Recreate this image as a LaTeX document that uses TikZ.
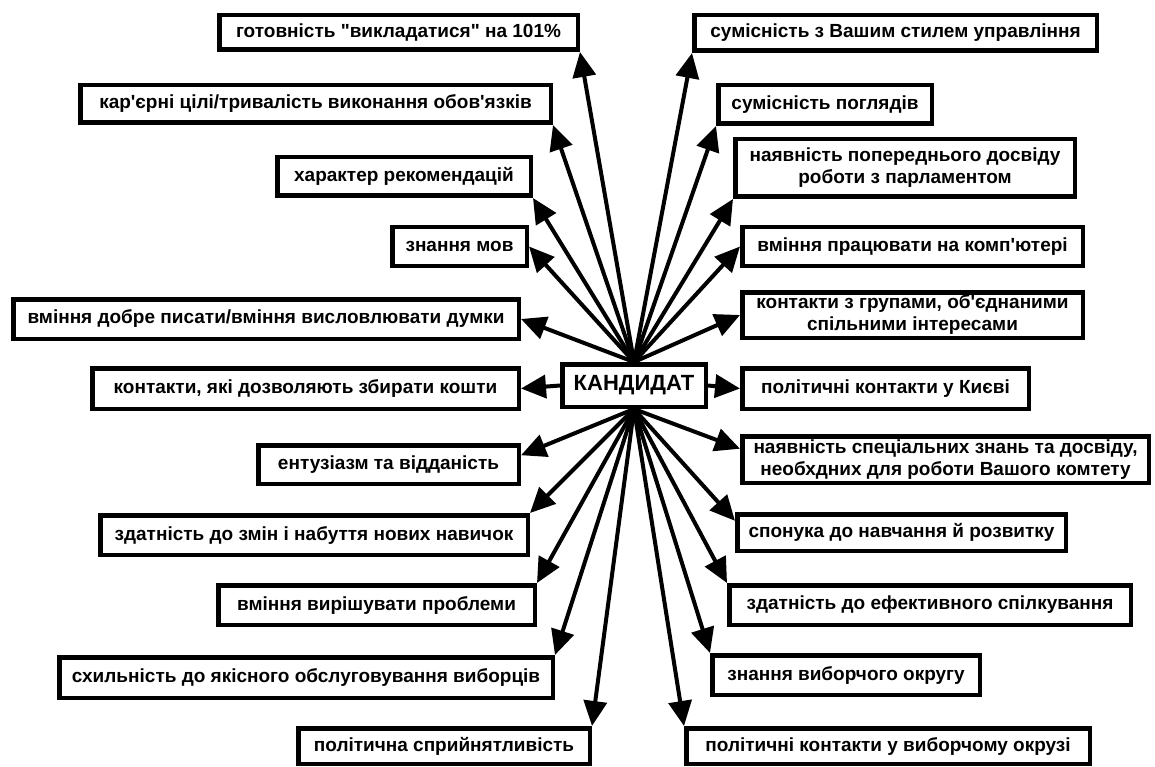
\documentclass[tikz,border=0pt]{standalone}
\usepackage{fontspec}
\newfontfamily\uafont{Liberation Sans}
\usetikzlibrary{arrows.meta}
\tikzset{
  box/.style={draw, line width=4.5pt, fill=white, inner sep=0pt, align=center,
    font=\uafont\bfseries\fontsize{19}{22}\selectfont},
  candbox/.style={box, font=\uafont\bfseries\fontsize{22}{24}\selectfont},
  arr/.style={line width=4pt, -{Triangle[length=25pt,width=23pt]}}
}
\newcommand\bx[6]{%
  \node[box, minimum width={(#4-#2-4.5)*1pt}, minimum height={(#5-#3-4.5)*1pt}]
    (#1) at ({(#2+#4)/2},{(#3+#5)/2}) {#6};}
\begin{document}
\begin{tikzpicture}[x=1pt,y=-1pt]
\useasboundingbox[fill=white] (0,0) rectangle (1155,767);
% centre
\node[candbox, minimum width=143.5pt, minimum height=42.5pt] (C) at (634,385.5) {\raisebox{-1pt}{КАНДИДАТ}};
% left column
\bx{L1}{217}{13}{580}{52}{готовність "викладатися" на 101\%}
\bx{L2}{78}{83}{553}{125}{кар'єрні цілі/тривалість виконання обов'язків}
\bx{L3}{275}{155}{533}{198}{характер рекомендацій}
\bx{L4}{390}{225}{529}{268}{знання мов}
\bx{L5}{11}{297}{521}{341}{вміння добре писати/вміння висловлювати думки}
\bx{L6}{90}{366}{521}{411}{контакти, які дозволяють збирати кошти}
\bx{L7}{256}{443}{521}{486}{ентузіазм та відданість}
\bx{L8}{98}{513}{530}{557}{здатність до змін і набуття нових навичок}
\bx{L9}{216}{583}{537}{627}{вміння вирішувати проблеми}
\bx{L10}{57}{655}{555}{700}{схильність до якісного обслуговування виборців}
\bx{L11}{296}{726}{592}{766}{політична сприйнятливість}
% right column
\bx{R1}{692}{13}{1099}{53}{сумісність з Вашим стилем управління}
\bx{R2}{716}{83}{934}{126}{сумісність поглядів}
\bx{R3}{733}{137}{1077}{199}{наявність попереднього досвіду\\роботи з парламентом}
\bx{R4}{740}{225}{1085}{268}{вміння працювати на комп'ютері}
\bx{R5}{740}{290}{1085}{340}{контакти з групами, об'єднаними\\спільними інтересами}
\bx{R6}{740}{366}{1031}{411}{політичні контакти у Києві}
\bx{R7}{740}{434}{1151}{485}{наявність спеціальних знань та досвіду,\\необхдних для роботи Вашого комтету}
\bx{R8}{735}{512}{1068}{553}{спонука до навчання й розвитку}
\bx{R9}{727}{583}{1133}{627}{здатність до ефективного спілкування}
\bx{R10}{710}{653}{982}{697}{знання виборчого округу}
\bx{R11}{684}{726}{1092}{766}{політичні контакти у виборчому окрузі}
% arrows
\draw[arr] (C.north) -- (L1.south east);
\draw[arr] (C.north) -- (L2.south east);
\draw[arr] (C.north) -- (L3.south east);
\draw[arr] (C.north) -- (L4.east);
\draw[arr] (C.north) -- (L5.east);
\draw[arr] (C.west) -- (L6.east);
\draw[arr] (C.south) -- (L7.4);
\draw[arr] (C.south) -- (L8.north east);
\draw[arr] (C.south) -- (L9.north east);
\draw[arr] (C.south) -- (L10.north east);
\draw[arr] (C.south) -- (L11.north east);
\draw[arr] (C.north) -- (R1.south west);
\draw[arr] (C.north) -- (R2.south west);
\draw[arr] (C.north) -- (R3.south west);
\draw[arr] (C.north) -- (R4.west);
\draw[arr] (C.north) -- (R5.west);
\draw[arr] (C.east) -- (R6.west);
\draw[arr] (C.south) -- (R7.177);
\draw[arr] (C.south) -- (R8.176);
\draw[arr] (C.south) -- (R9.north west);
\draw[arr] (C.south) -- (R10.north west);
\draw[arr] (C.south) -- (R11.north west);
\end{tikzpicture}
\end{document}
